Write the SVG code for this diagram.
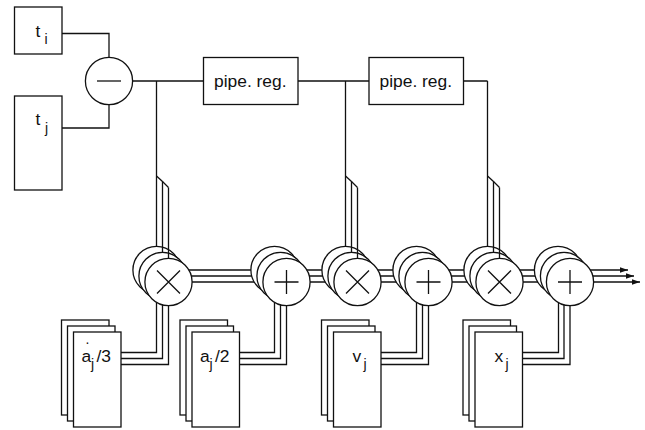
<svg xmlns="http://www.w3.org/2000/svg" width="645" height="430" viewBox="0 0 645 430">
<style>
rect,circle{fill:#fff;stroke:#111;stroke-width:1.3}
path{fill:none;stroke:#111;stroke-width:1.3}
text{font-family:"Liberation Sans",Arial,sans-serif;font-size:17.4px;fill:#111}
.s{font-size:14px}
</style>
<defs>
<marker id="arrow" markerUnits="userSpaceOnUse" markerWidth="8" markerHeight="6" refX="8" refY="3" orient="auto"><polygon points="0,0.300 8,3 0,5.700" fill="#111"/></marker>
<g id="stack"><rect x="0" y="0" width="47.500" height="95"/><rect x="6" y="6" width="47.500" height="95"/><rect x="12" y="12" width="47.500" height="95"/></g>
<g id="tri"><circle cx="0" cy="0" r="23.600"/><circle cx="6" cy="6" r="23.600"/><circle cx="12" cy="12" r="23.600"/></g>
<path id="times" d="M-11.500-11.500L11.500 11.500M11.500-11.500L-11.500 11.500"/>
<path id="plus" d="M-12 0H12M0-12V12"/>
</defs>
<g id="connectors">
<path d="M62 33.500H109V58M62 128H109V105M133 81H204M298 81H369M463 81H487.500M156.500 81V176M345.500 81V176M487.500 81V176"/>
<path d="M156.500 176L162.500 181.500L168.500 187.500M345.500 176L351.500 181.500L357.500 187.500M487.500 176L493.500 181.500L499.500 187.500"/>
<path d="M121 352.500H156.500V300M121 358.500H162.500V300M121 364.500H168.500V300"/>
<path d="M239.500 352.500H274.500V300M239.500 358.500H280.500V300M239.500 364.500H286.500V300"/>
<path d="M381 352.500H416.500V300M381 358.500H422.500V300M381 364.500H428.500V300"/>
<path d="M522.500 352.500H558.500V300M522.500 358.500H564V300M522.500 364.500H570V300"/>
<path d="M156 270H628" marker-end="url(#arrow)"/>
<path d="M162 276H634" marker-end="url(#arrow)"/>
<path d="M168 282H640" marker-end="url(#arrow)"/>
</g>
<g id="t-i"><rect x="14.500" y="7" width="47.500" height="47"/><text x="35.500" y="37">t</text><text class="s" x="44.500" y="43.500">i</text></g>
<g id="t-j"><rect x="14.500" y="96" width="47.500" height="94"/><text x="35.500" y="125">t</text><text class="s" x="45" y="133">j</text></g>
<g id="sub"><circle cx="109" cy="81" r="23.600"/><path d="M97 81H121"/></g>
<g id="pipe-1"><rect x="203.500" y="57.500" width="94.500" height="47"/><text x="214" y="87">pipe. reg.</text></g>
<g id="pipe-2"><rect x="369" y="57.500" width="94.500" height="47"/><text x="379.500" y="87">pipe. reg.</text></g>
<g id="mul-1"><use href="#tri" x="156.500" y="270"/><use href="#times" x="168.500" y="282"/></g>
<g id="add-1"><use href="#tri" x="274.500" y="270"/><use href="#plus" x="286.500" y="282"/></g>
<g id="mul-2"><use href="#tri" x="345.500" y="270"/><use href="#times" x="357.500" y="282"/></g>
<g id="add-2"><use href="#tri" x="416.500" y="270"/><use href="#plus" x="428.500" y="282"/></g>
<g id="mul-3"><use href="#tri" x="487.500" y="270"/><use href="#times" x="499.500" y="282"/></g>
<g id="add-3"><use href="#tri" x="558" y="270"/><use href="#plus" x="570" y="282"/></g>
<g id="connectors-top">
<path d="M156.500 176V246.500M162.500 181.500V252M168.500 187.500V258M345.500 176V246.500M351.500 181.500V252M357.500 187.500V258M487.500 176V246.500M493.500 181.500V252M499.500 187.500V258"/>
</g>
<g id="aj3"><use href="#stack" x="61.500" y="320"/><text x="81.500" y="362">a</text><text class="s" x="91" y="368.500">j</text><text x="96.500" y="362">/3</text><text class="s" x="85.500" y="344">.</text></g>
<g id="aj2"><use href="#stack" x="180" y="320"/><text x="200" y="362">a</text><text class="s" x="209.500" y="368.500">j</text><text x="215" y="362">/2</text></g>
<g id="vj"><use href="#stack" x="321.500" y="320"/><text x="352.500" y="362">v</text><text class="s" x="363.500" y="368.500">j</text></g>
<g id="xj"><use href="#stack" x="463" y="320"/><text x="494.500" y="362">x</text><text class="s" x="505.500" y="368.500">j</text></g>
</svg>
